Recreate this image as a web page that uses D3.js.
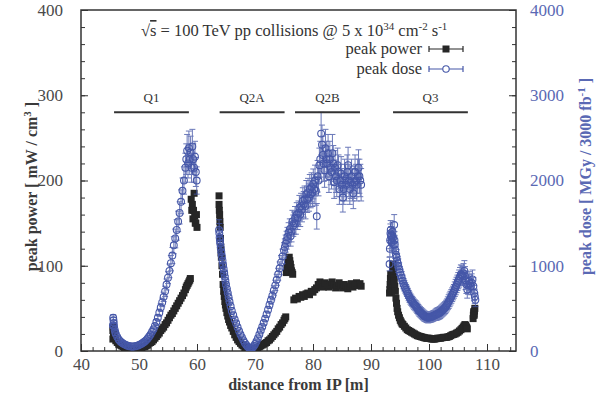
<!DOCTYPE html>
<html>
<head>
<meta charset="utf-8">
<script src="https://cdn.jsdelivr.net/npm/d3@7"></script>
<style>
  body { margin: 0; background: #fff; }
  svg text { font-family: "Liberation Serif", "DejaVu Serif", serif; }
</style>
</head>
<body>
<div id="chart"></div>
<script>
// ---- data ----
// peak power [mW/cm3] : [distance m, value]
const powerData = [
  // Q1
  [45.5,14],[45.5,24],[45.55,28],[45.6,20],[45.7,18],[45.8,15],[46.0,12],[46.25,10],[46.5,8],[46.75,7],[47.0,6],[47.25,5],[47.5,4],[47.75,4],[48.0,3],[48.25,3],[48.5,2],[48.75,2],[49.0,2],[49.25,2],[49.5,2],[49.75,3],[50.0,3],[50.25,3],[50.5,4],[50.75,5],[51.0,5],[51.25,6],[51.5,7],[51.75,9],[52.0,10],[52.25,11],[52.5,13],[52.75,15],[53.0,17],[53.25,19],[53.5,21],[53.75,24],[54.0,26],[54.25,28],[54.5,31],[54.75,33],[55.0,36],[55.25,39],[55.5,42],[55.75,44],[56.0,47],[56.25,50],[56.5,53],[56.75,56],[57.0,59],[57.25,62],[57.5,65],[57.75,68],[58.0,72],[58.15,75],[58.3,77],[58.45,79],[58.6,81],[58.75,83],[58.85,85],
  [59.0,178],[59.1,165],[59.2,172],[59.3,155],[59.4,165],[59.5,185],[59.6,158],[59.7,150],[59.8,150],[59.9,160],[60.0,145],
  // Q2A
  [63.8,182],[63.8,172],[63.85,165],[63.9,160],[63.95,152],[64.0,145],[64.05,132],[64.1,122],[64.15,115],[64.2,110],[64.3,100],[64.4,90],[64.5,78],[64.6,70],[64.7,64],[64.8,58],[64.9,54],[65.0,50],[65.15,45],[65.3,41],[65.45,37],[65.6,34],[65.8,30],[66.0,27],[66.25,23],[66.5,19],[66.75,16],[67.0,13],[67.25,11],[67.5,9],[67.75,7],[68.0,6],[68.25,4],[68.5,3],[68.75,2],[69.0,1],[69.25,1],[69.5,2],[69.75,2],[70.0,3],[70.25,3],[70.5,4],[70.75,5],[71.0,6],[71.25,7],[71.5,8],[71.75,9],[72.0,10],[72.25,12],[72.5,13],[72.75,15],[73.0,17],[73.25,19],[73.5,21],[73.75,23],[74.0,26],[74.25,28],[74.5,31],[74.75,33],[75.0,36],[75.15,38],[75.3,40],
  [75.4,92],[75.5,98],[75.6,94],[75.7,104],[75.8,100],[75.9,110],[76.0,106],[76.1,102],[76.2,98],[76.3,94],[76.4,92],[76.5,90],
  // Q2B
  [76.7,60],[77.0,62],[77.3,61],[77.6,64],[77.9,63],[78.2,66],[78.5,64],[78.8,67],[79.1,68],[79.4,66],[79.7,70],[80.0,69],[80.3,72],[80.6,74],[80.9,78],[81.2,81],[81.5,78],[81.8,75],[82.1,80],[82.4,77],[82.7,75],[83.0,78],[83.3,81],[83.6,77],[83.9,74],[84.2,77],[84.5,80],[84.8,76],[85.1,74],[85.4,78],[85.7,76],[86.0,73],[86.3,76],[86.6,79],[86.9,75],[87.2,77],[87.5,80],[87.8,77],[88.1,79],[88.3,76],
  // Q3
  [93.2,68],[93.25,72],[93.3,78],[93.35,85],[93.4,90],[93.45,80],[93.5,74],[93.55,70],[93.6,84],[93.65,88],[93.7,95],[93.75,98],[93.8,102],[93.85,96],[93.9,92],[93.95,86],[94.0,82],[94.1,76],[94.2,70],[94.3,62],[94.4,56],[94.5,50],[94.6,46],[94.75,42],[94.9,39],[95.05,36],[95.2,34],[95.35,32],[95.5,31],[95.75,29],[96.0,27],[96.25,25],[96.5,24],[96.75,23],[97.0,22],[97.25,21],[97.5,20],[97.75,19],[98.0,18],[98.25,17.5],[98.5,17],[98.75,16.5],[99.0,16],[99.25,15.5],[99.5,15],[99.75,15],[100.0,15],[100.25,14.5],[100.5,14],[100.75,14],[101.0,14],[101.25,14.5],[101.5,15],[101.75,15],[102.0,15],[102.25,15.5],[102.5,16],[102.75,16],[103.0,16],[103.25,16.5],[103.5,17],[103.75,18],[104.0,19],[104.25,19.5],[104.5,20],[104.75,21],[105.0,22],[105.25,23.5],[105.5,25],[105.7,26.5],[105.9,28],[106.05,29.5],[106.2,31],[106.3,30],[106.4,29],[106.5,27.5],[106.6,26],
  [107.6,38],[107.65,42],[107.7,46],[107.75,44],[107.8,42],[107.85,47],[107.9,50]
];

// peak dose [MGy / 3000 fb-1] : [distance m, value, error]
const doseData = [
  // Q1
  [45.5,300,30],[45.55,390,35],[45.6,360,32],[45.65,330,30],[45.7,290,28],[45.8,250,25],[45.9,220,22],[46.0,200,20],[46.25,165,16],[46.5,135,14],[46.75,115,12],[47.0,100,10],[47.25,88,9],[47.5,78,8],[47.75,70,7],[48.0,62,6],[48.25,58,6],[48.5,54,6],[48.75,52,6],[49.0,52,6],[49.25,54,6],[49.5,58,6],[49.75,63,7],[50.0,70,8],[50.25,78,8],[50.5,88,10],[50.75,100,10],[51.0,112,12],[51.25,128,13],[51.5,148,15],[51.75,170,17],[52.0,195,20],[52.25,225,22],[52.5,255,25],[52.75,295,28],[53.0,340,30],[53.25,390,35],[53.5,450,40],[53.75,510,45],[54.0,570,50],[54.25,635,55],[54.5,700,60],[54.75,780,65],[55.0,860,70],[55.25,940,80],[55.5,1030,90],[55.75,1120,95],[56.0,1240,100],[56.25,1320,110],[56.5,1420,120],[56.75,1520,120],[57.0,1620,130],[57.25,1750,140],[57.5,1880,150],[57.75,2000,160],[58.0,2150,170],[58.15,2250,180],[58.3,2350,190],[58.45,2200,170],[58.6,2380,200],[58.75,2250,180],[58.9,2330,190],[59.05,2150,170],[59.2,2400,200],[59.35,2250,180],[59.5,2150,170],[59.65,2280,180],[59.8,2100,170],[59.95,2000,160],
  // Q2A
  [63.8,1420,120],[63.85,1380,115],[63.9,1330,110],[63.95,1300,105],[64.0,1260,100],[64.1,1210,95],[64.2,1160,90],[64.3,1110,85],[64.4,1060,80],[64.5,1010,80],[64.6,960,75],[64.7,915,70],[64.8,870,70],[64.9,825,65],[65.0,780,60],[65.15,730,55],[65.3,680,50],[65.45,630,50],[65.6,580,45],[65.8,525,42],[66.0,470,40],[66.25,420,35],[66.5,370,30],[66.75,325,28],[67.0,280,25],[67.25,235,22],[67.5,195,20],[67.75,160,17],[68.0,125,15],[68.25,95,12],[68.5,70,10],[68.75,50,8],[69.0,35,8],[69.15,28,6],[69.3,25,6],[69.45,32,6],[69.6,42,8],[69.8,60,8],[70.0,80,10],[70.25,112,12],[70.5,150,15],[70.75,195,18],[71.0,240,20],[71.25,285,25],[71.5,330,30],[71.75,380,32],[72.0,430,35],[72.25,485,38],[72.5,540,40],[72.75,595,45],[73.0,650,50],[73.25,710,55],[73.5,770,60],[73.75,835,65],[74.0,900,70],[74.25,970,75],[74.5,1040,80],[74.75,1110,85],[75.0,1180,90],[75.15,1220,95],[75.3,1260,100],[75.45,1300,105],[75.6,1340,110],[75.8,1390,115],[76.0,1430,120],
  // Q2B
  [76.15,1350,120],[76.3,1400,120],[76.45,1520,130],[76.6,1470,125],[76.75,1500,130],[76.9,1560,135],[77.05,1500,130],[77.2,1600,140],[77.35,1560,135],[77.5,1620,140],[77.65,1680,145],[77.8,1600,140],[77.95,1700,150],[78.1,1660,145],[78.25,1760,155],[78.4,1720,150],[78.55,1780,155],[78.7,1700,150],[78.85,1840,160],[79.0,1780,155],[79.15,1860,165],[79.3,1800,160],[79.45,1900,170],[79.6,1840,160],[79.75,1920,170],[79.9,1860,165],[80.05,1960,175],[80.2,1900,170],[80.35,2000,180],[80.5,1880,170],[80.65,1580,150],[80.8,2050,185],[80.95,2000,180],[81.1,2180,200],[81.25,2250,210],[81.4,2550,250],[81.55,2420,230],[81.7,2300,220],[81.85,2200,210],[82.0,2120,200],[82.15,2380,220],[82.3,2250,210],[82.45,2200,200],[82.6,2320,220],[82.75,2050,190],[82.9,2250,210],[83.05,2150,200],[83.2,2100,200],[83.35,2320,220],[83.5,2200,210],[83.65,1980,190],[83.8,2150,200],[83.95,2050,190],[84.1,2000,190],[84.25,2180,200],[84.4,2100,200],[84.55,1900,180],[84.7,2000,190],[84.85,2080,200],[85.0,1950,190],[85.15,1800,170],[85.3,1900,180],[85.45,2050,200],[85.6,2000,190],[85.75,1950,190],[85.9,2100,200],[86.05,2180,210],[86.2,2000,190],[86.35,1900,180],[86.5,1980,190],[86.65,2050,200],[86.8,1950,190],[86.95,1850,180],[87.1,1980,190],[87.25,2100,200],[87.4,2000,190],[87.55,1950,190],[87.7,2050,200],[87.85,2150,210],[88.0,2050,200],[88.15,2000,190],[88.3,1950,190],
  // Q3
  [93.2,1020,80],[93.25,1200,95],[93.3,1300,100],[93.35,1380,110],[93.4,1420,110],[93.45,1350,100],[93.5,1360,100],[93.55,1300,100],[93.6,1280,100],[93.65,1350,105],[93.7,1400,110],[93.75,1320,100],[93.8,1330,100],[93.9,1250,100],[94.0,1480,120],[94.05,1300,100],[94.1,1250,100],[94.2,1180,95],[94.3,1130,90],[94.4,1100,90],[94.5,1060,85],[94.6,1030,80],[94.7,1000,80],[94.85,960,75],[95.0,920,70],[95.15,890,70],[95.3,860,70],[95.45,825,65],[95.6,790,60],[95.75,765,60],[95.9,740,60],[96.05,720,60],[96.2,700,60],[96.35,675,60],[96.5,650,60],[96.65,630,60],[96.8,610,60],[96.95,595,60],[97.1,580,60],[97.25,565,60],[97.4,550,60],[97.55,540,60],[97.7,530,60],[97.85,515,60],[98.0,500,60],[98.15,485,60],[98.3,470,60],[98.45,460,60],[98.6,450,60],[98.75,440,60],[98.9,430,60],[99.05,420,60],[99.2,410,60],[99.35,405,60],[99.5,400,60],[99.65,395,60],[99.8,390,60],[99.95,392,60],[100.1,395,60],[100.25,398,60],[100.4,400,60],[100.55,405,60],[100.7,410,60],[100.85,415,60],[101.0,420,60],[101.15,425,65],[101.3,430,70],[101.45,435,70],[101.6,440,70],[101.75,445,70],[101.9,450,70],[102.05,460,70],[102.2,470,70],[102.35,480,70],[102.5,490,70],[102.65,500,70],[102.8,510,70],[102.95,525,70],[103.1,540,70],[103.25,560,75],[103.4,580,80],[103.55,600,80],[103.7,620,80],[103.85,640,80],[104.0,660,80],[104.15,680,80],[104.3,700,80],[104.45,725,85],[104.6,750,90],[104.75,775,90],[104.9,800,90],[105.05,825,95],[105.2,850,100],[105.35,875,105],[105.5,900,110],[105.65,890,110],[105.8,880,110],[105.95,910,115],[106.1,940,120],[106.2,880,110],[106.3,830,110],[106.45,780,105],[106.6,720,100],[106.75,770,105],[106.9,820,110],[107.05,790,105],[107.2,760,100],[107.35,800,105],[107.5,840,110],[107.65,760,100],[107.8,680,90],[107.9,640,85],[108.0,600,80]
];

// magnet extents drawn as bars near the top
const magnetNames = ["Q1", "Q2A", "Q2B", "Q3"];
const magnetStart = [45.7, 63.9, 76.9, 93.8];
const magnetEnd   = [58.6, 75.1, 88.1, 106.7];
const magnetLevel = 280;

const xTicks = [40, 50, 60, 70, 80, 90, 100, 110];
const yLeftTicks = [0, 100, 200, 300, 400];
const yRightTicks = [0, 1000, 2000, 3000, 4000];

// ---- layout ----
const W = 609, H = 395;
const plot = {left: 81, right: 516, top: 10, bottom: 351};
const blue = "#4557a8";
const blueText = "#5a69b4";
const grey = "#4a4a4a";

const svg = d3.select("#chart").append("svg")
    .attr("width", W)
    .attr("height", H);

const x = d3.scaleLinear().domain([40, 115]).range([plot.left, plot.right]);
const yL = d3.scaleLinear().domain([0, 400]).range([plot.bottom, plot.top]);
const yR = d3.scaleLinear().domain([0, 4000]).range([plot.bottom, plot.top]);

// clip
svg.append("clipPath").attr("id", "clip")
    .append("rect")
    .attr("x", plot.left).attr("y", plot.top)
    .attr("width", plot.right - plot.left)
    .attr("height", plot.bottom - plot.top);

// axes
function styleAxis(g, color) {
    g.select(".domain").remove();
    g.selectAll("line").attr("stroke", "#333").attr("stroke-width", 1);
    g.selectAll("text")
        .attr("fill", color)
        .style("font-size", "17px");
}

svg.append("g")
    .attr("transform", `translate(0,${plot.bottom})`)
    .call(d3.axisBottom(x).tickValues(d3.range(40, 116, 2)).tickSize(-4).tickFormat(""))
    .call(g => styleAxis(g, grey));
svg.append("g")
    .attr("transform", `translate(0,${plot.bottom})`)
    .call(d3.axisBottom(x).tickValues(xTicks).tickSize(-7).tickPadding(7))
    .call(g => styleAxis(g, grey));

svg.append("g")
    .attr("transform", `translate(${plot.left},0)`)
    .call(d3.axisLeft(yL).tickValues(d3.range(0, 401, 20)).tickSize(-4).tickFormat(""))
    .call(g => styleAxis(g, grey));
svg.append("g")
    .attr("transform", `translate(${plot.left},0)`)
    .call(d3.axisLeft(yL).tickValues(yLeftTicks).tickSize(-7).tickPadding(18))
    .call(g => styleAxis(g, grey));

svg.append("g")
    .attr("transform", `translate(${plot.right},0)`)
    .call(d3.axisRight(yR).tickValues(d3.range(0, 4001, 200)).tickSize(-4).tickFormat(""))
    .call(g => styleAxis(g, blueText));
svg.append("g")
    .attr("transform", `translate(${plot.right},0)`)
    .call(d3.axisRight(yR).tickValues(yRightTicks).tickSize(-7).tickPadding(14).tickFormat(d3.format("d")))
    .call(g => styleAxis(g, blueText));

// frame
svg.append("rect")
    .attr("x", plot.left).attr("y", plot.top)
    .attr("width", plot.right - plot.left)
    .attr("height", plot.bottom - plot.top)
    .attr("fill", "none")
    .attr("stroke", "#333")
    .attr("stroke-width", 1.5);

// data layers
const marks = svg.append("g").attr("clip-path", "url(#clip)");

marks.append("g").selectAll("rect")
    .data(powerData)
    .join("rect")
    .attr("x", d => x(d[0]) - 3.5)
    .attr("y", d => yL(d[1]) - 3.5)
    .attr("width", 7)
    .attr("height", 7)
    .attr("fill", "#262626");

const err = marks.append("g")
    .attr("stroke", blue)
    .attr("stroke-width", 1)
    .attr("opacity", 0.8);
err.selectAll("line.v")
    .data(doseData)
    .join("line")
    .attr("class", "v")
    .attr("x1", d => x(d[0])).attr("x2", d => x(d[0]))
    .attr("y1", d => yR(d[1] - d[2])).attr("y2", d => yR(d[1] + d[2]));
err.selectAll("line.t")
    .data(doseData)
    .join("line")
    .attr("class", "t")
    .attr("x1", d => x(d[0]) - 3).attr("x2", d => x(d[0]) + 3)
    .attr("y1", d => yR(d[1] + d[2])).attr("y2", d => yR(d[1] + d[2]));
err.selectAll("line.b")
    .data(doseData)
    .join("line")
    .attr("class", "b")
    .attr("x1", d => x(d[0]) - 3).attr("x2", d => x(d[0]) + 3)
    .attr("y1", d => yR(d[1] - d[2])).attr("y2", d => yR(d[1] - d[2]));

marks.append("g").selectAll("circle")
    .data(doseData)
    .join("circle")
    .attr("cx", d => x(d[0]))
    .attr("cy", d => yR(d[1]))
    .attr("r", 3.4)
    .attr("fill", "none")
    .attr("stroke", blue)
    .attr("stroke-width", 1.1);

// magnets
const mag = svg.append("g");
magnetNames.forEach((name, i) => {
    mag.append("line")
        .attr("x1", x(magnetStart[i])).attr("x2", x(magnetEnd[i]))
        .attr("y1", yL(magnetLevel)).attr("y2", yL(magnetLevel))
        .attr("stroke", "#333").attr("stroke-width", 2);
    mag.append("text")
        .attr("x", (x(magnetStart[i]) + x(magnetEnd[i])) / 2)
        .attr("y", yL(magnetLevel) - 10)
        .attr("text-anchor", "middle")
        .attr("fill", "#333")
        .style("font-size", "13px")
        .text(name);
});

// title
const title = svg.append("text")
    .attr("x", 141).attr("y", 36)
    .attr("fill", "#333")
    .style("font-size", "16.5px");
title.append("tspan").text("√");
title.append("tspan").attr("text-decoration", "overline").text("s");
title.append("tspan").text(" = 100 TeV pp collisions @ 5 x 10");
title.append("tspan").attr("dy", -6).style("font-size", "11px").text("34");
title.append("tspan").attr("dy", 6).text(" cm");
title.append("tspan").attr("dy", -6).style("font-size", "11px").text("-2");
title.append("tspan").attr("dy", 6).text(" s");
title.append("tspan").attr("dy", -6).style("font-size", "11px").text("-1");

// legend
const legend = svg.append("g");
legend.append("text")
    .attr("x", 422).attr("y", 54)
    .attr("text-anchor", "end")
    .attr("fill", "#333")
    .style("font-size", "16.5px")
    .text("peak power");
legend.append("text")
    .attr("x", 422).attr("y", 74)
    .attr("text-anchor", "end")
    .attr("fill", "#333")
    .style("font-size", "16.5px")
    .text("peak dose");

[[49, "#262626"], [69, blue]].forEach(([ly, c], i) => {
    legend.append("line")
        .attr("x1", 429).attr("x2", 463).attr("y1", ly).attr("y2", ly)
        .attr("stroke", c).attr("stroke-width", 1.2);
    legend.append("line")
        .attr("x1", 429).attr("x2", 429).attr("y1", ly - 3).attr("y2", ly + 3)
        .attr("stroke", c).attr("stroke-width", 1.2);
    legend.append("line")
        .attr("x1", 463).attr("x2", 463).attr("y1", ly - 3).attr("y2", ly + 3)
        .attr("stroke", c).attr("stroke-width", 1.2);
    if (i === 0) {
        legend.append("rect")
            .attr("x", 442.5).attr("y", ly - 3.5).attr("width", 7).attr("height", 7)
            .attr("fill", c);
    } else {
        legend.append("circle")
            .attr("cx", 446).attr("cy", ly).attr("r", 3.2)
            .attr("fill", "#fff").attr("stroke", c).attr("stroke-width", 1.1);
    }
});

// axis titles
const leftTitle = svg.append("text")
    .attr("transform", `translate(37,${(plot.top + plot.bottom) / 2 + 6}) rotate(-90)`)
    .attr("text-anchor", "middle")
    .attr("fill", "#3a3a3a")
    .style("font-size", "16px")
    .style("font-weight", "bold");
leftTitle.append("tspan").text("peak power [ mW / cm");
leftTitle.append("tspan").attr("dy", -6).style("font-size", "11px").text("3");
leftTitle.append("tspan").attr("dy", 6).text(" ]");

const rightTitle = svg.append("text")
    .attr("transform", `translate(591,${(plot.top + plot.bottom) / 2 - 4}) rotate(-90)`)
    .attr("text-anchor", "middle")
    .attr("fill", blueText)
    .style("font-size", "16px")
    .style("font-weight", "bold");
rightTitle.append("tspan").text("peak dose [ MGy / 3000 fb");
rightTitle.append("tspan").attr("dy", -6).style("font-size", "11px").text("-1");
rightTitle.append("tspan").attr("dy", 6).text(" ]");

svg.append("text")
    .attr("x", x(77.5)).attr("y", 390)
    .attr("text-anchor", "middle")
    .attr("fill", "#3a3a3a")
    .style("font-size", "16px")
    .style("font-weight", "bold")
    .text("distance from IP [m]");
</script>
</body>
</html>
